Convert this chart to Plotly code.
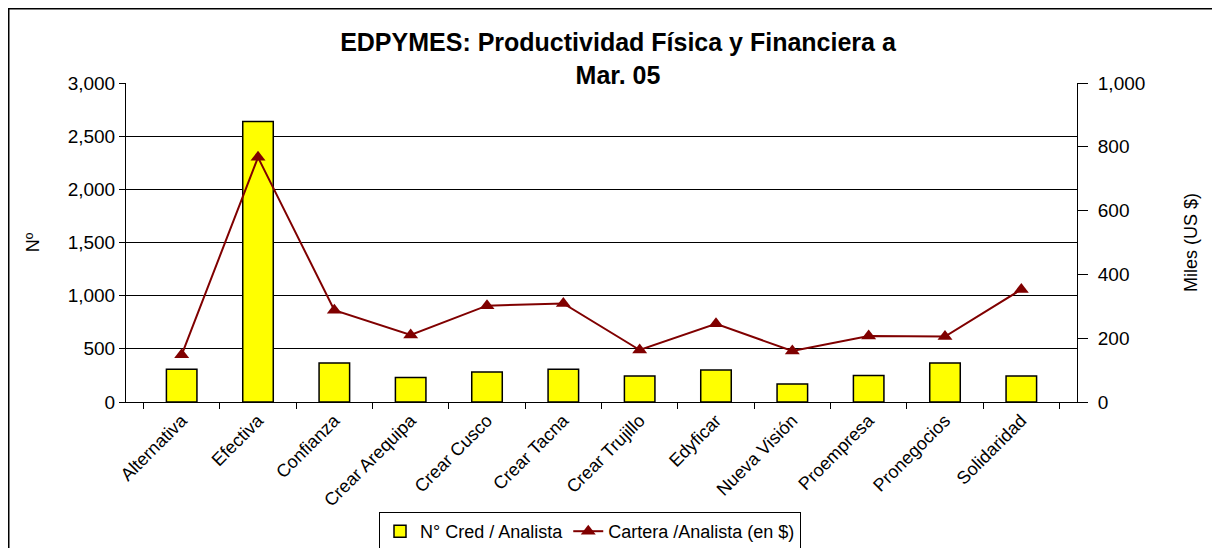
import plotly.graph_objects as go

categories = ["Alternativa", "Efectiva", "Confianza", "Crear Arequipa", "Crear Cusco",
              "Crear Tacna", "Crear Trujillo", "Edyficar", "Nueva Visión", "Proempresa",
              "Pronegocios", "Solidaridad"]
cred_por_analista = [309, 2637, 366, 231, 281, 309, 244, 300, 169, 249, 366, 244]
cartera_por_analista = [148, 767, 288, 210, 302, 309, 163, 245, 160, 207, 205, 353]

left_ticks = [0, 500, 1000, 1500, 2000, 2500, 3000]
right_ticks = [0, 200, 400, 600, 800, 1000]

FONT = "Liberation Sans, Arial, sans-serif"

fig = go.Figure()
fig.add_trace(go.Bar(
    x=categories, y=cred_por_analista, name="N° Cred / Analista",
    marker=dict(color="#FFFF00", line=dict(color="#000000", width=1.5)),
    yaxis="y",
))
fig.add_trace(go.Scatter(
    x=categories, y=cartera_por_analista, name="Cartera /Analista (en $)",
    mode="lines+markers",
    line=dict(color="#800000", width=2),
    marker=dict(symbol="triangle-up", size=13, color="#800000"),
    yaxis="y2",
))

# page body has an 8px margin, so the figure starts at screen (8, 8)
OFF = 8
W, H = 1220 - OFF, 548 - OFF
L = 126 - OFF
T = 83 - OFF
R = W - (1077 - OFF)
B = H - (402 - OFF)
pw, ph = W - L - R, H - T - B

def px_x(p):  # screen px -> paper
    return (p - OFF - L) / pw

def px_y(p):  # screen px -> paper
    return (H - B - (p - OFF)) / ph

fig.update_layout(
    template="none",
    width=W, height=H,
    margin=dict(l=L, r=R, t=T, b=B, autoexpand=False),
    paper_bgcolor="white", plot_bgcolor="white",
    font=dict(family=FONT, color="#000000", size=15),
    title=dict(
        text="<b>EDPYMES: Productividad Física y Financiera a<br>Mar. 05</b>",
        x=px_x(618), xref="paper", xanchor="center",
        y=1 - 43 / H, yref="container", yanchor="top",
        font=dict(size=25, family=FONT, color="#000000"),
        automargin=False,
    ),
    bargap=0.6,
    showlegend=True,
    legend=dict(
        orientation="h", x=px_x(590), xanchor="center",
        y=px_y(512), yanchor="top",
        bordercolor="#000000", borderwidth=1, bgcolor="white",
        font=dict(size=18, family=FONT),
        traceorder="normal",
    ),
    xaxis=dict(
        type="category", showgrid=False, showline=True, linecolor="#000000", linewidth=1,
        ticks="outside", tickson="boundaries", ticklen=6, tickcolor="#000000",
        tickangle=-45, tickfont=dict(size=18, family=FONT), automargin=False,
    ),
    yaxis=dict(
        range=[0, 3000], tickvals=left_ticks, tickformat=",d",
        showgrid=True, gridcolor="#000000", gridwidth=1,
        showline=True, linecolor="#000000", linewidth=1,
        ticks="outside", ticklen=6, tickcolor="#000000",
        tickfont=dict(size=19, family=FONT),
        title=dict(text="Nº", font=dict(size=18, family=FONT), standoff=23),
        zeroline=False, automargin=False,
    ),
    yaxis2=dict(
        range=[0, 1000], tickvals=right_ticks, tickformat=",d",
        overlaying="y", side="right", showgrid=False,
        showline=True, linecolor="#000000", linewidth=1,
        ticks="outside", ticklen=10, tickcolor="#000000", ticklabelstandoff=6,
        tickfont=dict(size=19, family=FONT),
        title=dict(text="Miles (US $)", font=dict(size=18, family=FONT), standoff=40),
        zeroline=False, automargin=False,
    ),
)

fig.add_shape(
    type="rect", xref="paper", yref="paper",
    x0=px_x(8.75), x1=px_x(1240), y0=px_y(570), y1=px_y(8.75),
    line=dict(color="#000000", width=1.5), fillcolor="rgba(0,0,0,0)", layer="below",
)

fig.write_html("out.html")
